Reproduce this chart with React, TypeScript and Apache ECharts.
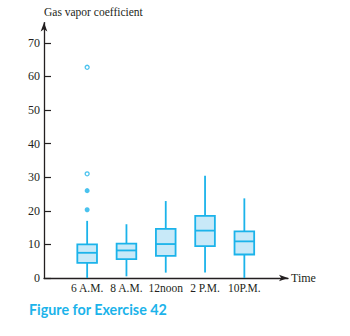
import React, { useEffect, useRef } from "react";
import * as echarts from "echarts";

const categories = ["6 A.M.", "8 A.M.", "12noon", "2 P.M.", "10P.M."];
// [min, Q1, median, Q3, max]
const boxValues = [
  [0, 4.5, 7.5, 10, 17],
  [0.5, 5.6, 8.2, 10.2, 16],
  [1.6, 6.6, 10.1, 14.6, 22.9],
  [1.6, 9.5, 14.1, 18.5, 30.4],
  [0, 7, 10.9, 13.9, 23.7],
];
const filledOutliers = [[0, 20.3], [0, 26]];
const openOutliers = [[0, 31], [0, 62.7]];
const yTicks = [0, 10, 20, 30, 40, 50, 60, 70];

const BLUE = "#1BB3EA";
const FILL = "#C8E9F8";
const DARK = "#231F20";
const SERIF = "'Liberation Serif', 'Times New Roman', serif";

export default function App() {
  const ref = useRef<HTMLDivElement>(null);
  useEffect(() => {
    document.body.style.margin = "0";
    if (!ref.current) return;
    const chart = echarts.init(ref.current, null, { renderer: "svg" });
    const top = 22.6;
    const bottom = 58;
    chart.setOption({
      animation: false,
      grid: [
        { left: 44, right: 62, top, bottom },
        { left: 67.5, right: 86, top, bottom },
      ],
      xAxis: [
        {
          gridIndex: 0,
          type: "value",
          min: 0,
          max: 1,
          splitLine: { show: false },
          axisTick: { show: false },
          axisLabel: { show: false },
          axisLine: {
            show: true,
            onZero: false,
            lineStyle: { color: DARK, width: 1.3 },
            symbol: ["none", "arrow"],
            symbolSize: [5, 9],
          },
          name: "Time",
          nameLocation: "end",
          nameGap: 3,
          nameTextStyle: { fontFamily: SERIF, fontSize: 12, color: DARK },
        },
        {
          gridIndex: 1,
          type: "category",
          data: categories,
          axisLine: { show: false },
          axisTick: { show: false },
          axisLabel: {
            interval: 0,
            fontFamily: SERIF,
            fontSize: 11.5,
            color: DARK,
            margin: 4,
          },
        },
      ],
      yAxis: [
        {
          gridIndex: 0,
          type: "value",
          min: 0,
          max: 76,
          splitLine: { show: false },
          axisLine: {
            show: true,
            onZero: false,
            lineStyle: { color: DARK, width: 1.3 },
            symbol: ["none", "arrow"],
            symbolSize: [5, 9],
          },
          axisTick: {
            show: true,
            inside: true,
            length: 7,
            customValues: yTicks,
            lineStyle: { color: DARK, width: 1.2 },
          },
          axisLabel: {
            customValues: yTicks,
            fontFamily: SERIF,
            fontSize: 12,
            color: DARK,
            margin: 4,
          },
          name: "Gas vapor coefficient",
          nameLocation: "end",
          nameGap: 5,
          nameTextStyle: {
            fontFamily: SERIF,
            fontSize: 11.5,
            color: DARK,
            align: "left",
            verticalAlign: "bottom",
          },
        },
        {
          gridIndex: 1,
          type: "value",
          min: 0,
          max: 76,
          show: false,
        },
      ],
      graphic: [
        {
          type: "text",
          left: 29,
          top: 302,
          style: {
            text: "Figure for Exercise 42",
            fontFamily: "Lato, 'Noto Sans', sans-serif",
            fontWeight: "bold",
            fontSize: 14.3,
            fill: BLUE,
          },
        },
      ],
      series: [
        {
          type: "custom",
          xAxisIndex: 1,
          yAxisIndex: 1,
          data: boxValues.map((v, i) => [i, ...v]),
          encode: { x: 0, y: [1, 2, 3, 4, 5] },
          renderItem: (params: any, api: any) => {
            const idx = api.value(0);
            const pMin = api.coord([idx, api.value(1)]);
            const pQ1 = api.coord([idx, api.value(2)]);
            const pMed = api.coord([idx, api.value(3)]);
            const pQ3 = api.coord([idx, api.value(4)]);
            const pMax = api.coord([idx, api.value(5)]);
            const w = api.size([1, 0])[0] * 0.5;
            const x = pQ1[0];
            const lineStyle = { stroke: BLUE, lineWidth: 1.8 };
            return {
              type: "group",
              children: [
                { type: "line", shape: { x1: x, y1: pMin[1], x2: x, y2: pQ1[1] }, style: lineStyle },
                { type: "line", shape: { x1: x, y1: pQ3[1], x2: x, y2: pMax[1] }, style: lineStyle },
                {
                  type: "rect",
                  shape: { x: x - w / 2, y: pQ3[1], width: w, height: pQ1[1] - pQ3[1] },
                  style: { fill: FILL, stroke: BLUE, lineWidth: 1.8 },
                },
                { type: "line", shape: { x1: x - w / 2, y1: pMed[1], x2: x + w / 2, y2: pMed[1] }, style: lineStyle },
              ],
            };
          },
          z: 3,
        },
        {
          type: "scatter",
          xAxisIndex: 1,
          yAxisIndex: 1,
          data: filledOutliers,
          symbol: "circle",
          symbolSize: 5,
          itemStyle: { color: BLUE },
          z: 4,
        },
        {
          type: "scatter",
          xAxisIndex: 1,
          yAxisIndex: 1,
          data: openOutliers,
          symbol: "circle",
          symbolSize: 4,
          itemStyle: { color: "#fff", borderColor: BLUE, borderWidth: 1.3 },
          z: 4,
        },
      ],
    });
    return () => chart.dispose();
  }, []);
  return <div ref={ref} style={{ width: 350, height: 336 }} />;
}
